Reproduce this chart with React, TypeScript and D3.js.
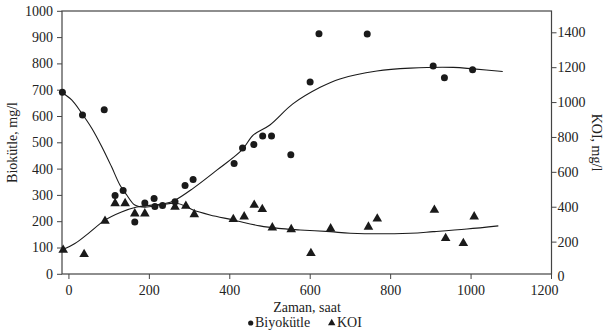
import * as d3 from "d3";
import { useEffect, useRef } from "react";

// Biyokütle (mg/l, left axis) measured points: [zaman, deger]
const biomassTime = [-15, 35, 89, 116, 136, 165, 190, 213, 215, 234, 265, 290, 310, 412, 433, 461, 483, 505, 553, 601, 623, 743, 907, 935, 1005];
const biomassValue = [690, 604, 624, 298, 317, 197, 269, 286, 256, 260, 274, 336, 359, 419, 478, 492, 524, 524, 453, 729, 913, 912, 790, 745, 776];

// KOI (mg/l, right axis) measured points
const koiTime = [-13, 39, 91, 116, 141, 165, 190, 265, 292, 313, 410, 437, 462, 482, 507, 554, 603, 652, 746, 768, 910, 938, 982, 1009];
const koiValue = [158, 133, 324, 425, 425, 366, 366, 404, 410, 362, 334, 349, 416, 391, 286, 276, 139, 280, 290, 337, 387, 225, 196, 349];

// rising fitted curve (left axis units)
const riseTime = [-13, 16, 49, 91, 132, 170, 207, 240, 265, 310, 369, 431, 460, 501, 558, 626, 675, 767, 850, 957, 1007, 1080];
const riseValue = [93, 115, 153, 204, 235, 254, 261, 267, 280, 325, 394, 470, 528, 566, 646, 709, 741, 771, 782, 785, 779, 769];

// falling fitted curve (right axis units)
const fallTime = [-17, 8, 33, 58, 83, 107, 128, 145, 165, 190, 228, 269, 294, 310, 352, 410, 476, 522, 576, 651, 701, 850, 907, 991, 1069];
const fallValue = [1056, 1012, 936, 850, 744, 630, 525, 467, 410, 398, 410, 420, 400, 381, 353, 324, 290, 276, 267, 257, 248, 248, 257, 272, 290];

const xTicks = [0, 200, 400, 600, 800, 1000, 1200];
const leftTicks = [0, 100, 200, 300, 400, 500, 600, 700, 800, 900, 1000];
const rightTicks = [0, 200, 400, 600, 800, 1000, 1200, 1400];

const width = 604;
const height = 336;
const font = "'Liberation Serif', 'Times New Roman', serif";

export default function App() {
  const svgRef = useRef<SVGSVGElement>(null);

  useEffect(() => {
    if (!svgRef.current) return;
    const svg = d3.select(svgRef.current);
    svg.selectAll("*").remove();

    const plot = { left: 62, right: 551.5, top: 11, bottom: 274 };

    const x = d3.scaleLinear().domain([-16, 1200]).range([plot.left, 551]);
    const yLeft = d3.scaleLinear().domain([0, 1000]).range([273.8, 10.8]);
    const yRight = d3.scaleLinear().domain([0, 1400]).range([276.5, 32.3]);

    const ink = "#1a1a1a";
    const axisColor = "#444";

    // frame
    svg
      .append("rect")
      .attr("x", plot.left)
      .attr("y", plot.top)
      .attr("width", plot.right - plot.left)
      .attr("height", plot.bottom - plot.top)
      .style("fill", "none")
      .style("stroke", axisColor)
      .style("stroke-width", 1.2);

    // axes
    const styleAxis = (g: d3.Selection<SVGGElement, unknown, null, undefined>) => {
      g.select(".domain").remove();
      g.selectAll(".tick line").style("stroke", axisColor).style("stroke-width", 1);
      g.selectAll(".tick text")
        .style("font-family", font)
        .style("font-size", "14px")
        .style("fill", "#222");
    };

    const bottomAxis = svg
      .append("g")
      .attr("transform", `translate(0,${plot.bottom})`)
      .call(d3.axisBottom(x).tickValues(xTicks).tickSize(5).tickPadding(6).tickFormat(d3.format("d")))
      .call(styleAxis);
    // last label sits a little left of its tick, clear of the right axis
    bottomAxis
      .selectAll<SVGGElement, number>(".tick")
      .filter((d) => d === 1200)
      .select("text")
      .attr("dx", -7);

    svg
      .append("g")
      .attr("transform", `translate(${plot.left},0)`)
      .call(d3.axisLeft(yLeft).tickValues(leftTicks).tickSize(5).tickPadding(4).tickFormat(d3.format("d")))
      .call(styleAxis);

    const rightAxis = svg
      .append("g")
      .attr("transform", `translate(${plot.right},0)`)
      .call(d3.axisRight(yRight).tickValues(rightTicks).tickSize(5).tickPadding(1).tickFormat(d3.format("d")))
      .call(styleAxis);
    rightAxis
      .selectAll<SVGGElement, number>(".tick")
      .filter((d) => d === 0)
      .select("line")
      .remove();

    // fitted curves
    const riseLine = d3
      .line<number>()
      .x((_, i) => x(riseTime[i]))
      .y((d) => yLeft(d))
      .curve(d3.curveCatmullRom.alpha(0.5));
    const fallLine = d3
      .line<number>()
      .x((_, i) => x(fallTime[i]))
      .y((d) => yRight(d))
      .curve(d3.curveCatmullRom.alpha(0.5));

    svg
      .append("path")
      .attr("d", riseLine(riseValue))
      .style("fill", "none")
      .style("stroke", ink)
      .style("stroke-width", 1.1);
    svg
      .append("path")
      .attr("d", fallLine(fallValue))
      .style("fill", "none")
      .style("stroke", ink)
      .style("stroke-width", 1.1);

    // KOI triangles
    const tri = d3.symbol().type(d3.symbolTriangle).size(40);
    svg
      .append("g")
      .selectAll("path")
      .data(koiValue)
      .enter()
      .append("path")
      .attr("d", tri)
      .attr("transform", (d, i) => `translate(${x(koiTime[i])},${yRight(d) + 1})`)
      .style("fill", ink);

    // Biyokütle circles
    svg
      .append("g")
      .selectAll("circle")
      .data(biomassValue)
      .enter()
      .append("circle")
      .attr("cx", (_, i) => x(biomassTime[i]))
      .attr("cy", (d) => yLeft(d))
      .attr("r", 3.5)
      .style("fill", ink);

    // axis titles
    svg
      .append("text")
      .attr("transform", `translate(17,${(plot.top + plot.bottom) / 2}) rotate(-90)`)
      .attr("text-anchor", "middle")
      .style("font-family", font)
      .style("font-size", "14px")
      .style("fill", "#222")
      .text("Biokütle, mg/l");

    svg
      .append("text")
      .attr("transform", `translate(592,${(plot.top + plot.bottom) / 2}) rotate(90)`)
      .attr("text-anchor", "middle")
      .style("font-family", font)
      .style("font-size", "14px")
      .style("fill", "#222")
      .text("KOI, mg/l");

    svg
      .append("text")
      .attr("x", 307)
      .attr("y", 312)
      .attr("text-anchor", "middle")
      .style("font-family", font)
      .style("font-size", "14px")
      .style("fill", "#222")
      .text("Zaman, saat");

    // legend
    const legend = svg.append("g").attr("transform", "translate(0,327)");
    legend.append("circle").attr("cx", 250.7).attr("cy", -4).attr("r", 2.6).style("fill", ink);
    legend
      .append("text")
      .attr("x", 255)
      .style("font-family", font)
      .style("font-size", "14px")
      .style("fill", "#222")
      .text("Biyokütle");
    legend
      .append("path")
      .attr("d", d3.symbol().type(d3.symbolTriangle).size(24)())
      .attr("transform", "translate(331.7,-4)")
      .style("fill", ink);
    legend
      .append("text")
      .attr("x", 337)
      .style("font-family", font)
      .style("font-size", "14px")
      .style("fill", "#222")
      .text("KOI");
  }, []);

  return (
    <svg
      ref={svgRef}
      width={width}
      height={height}
      style={{ position: "absolute", left: 0, top: 0, background: "#fff" }}
    />
  );
}
